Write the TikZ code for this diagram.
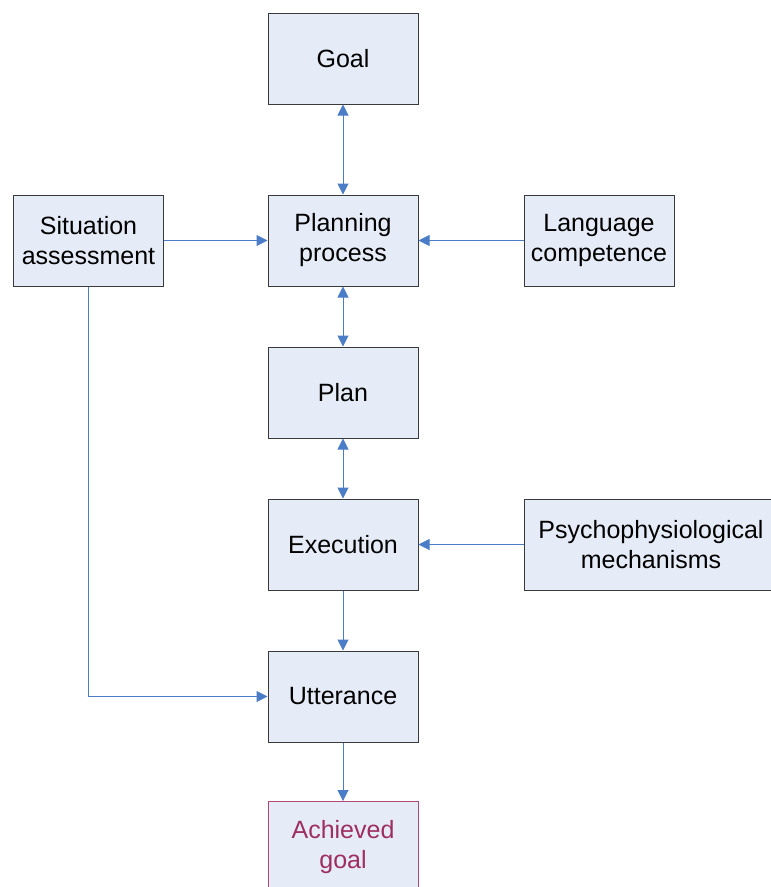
\documentclass[tikz,border=0pt]{standalone}
\usepackage{fontspec}
\setmainfont{Liberation Sans}
\usetikzlibrary{arrows.meta}
\definecolor{boxfill}{HTML}{E6ECF7}
\definecolor{boxline}{HTML}{3A3A3A}
\definecolor{linkblue}{HTML}{4A7CC8}
\definecolor{goalred}{HTML}{9E2E62}
\definecolor{goalline}{HTML}{B0487A}
\begin{document}
\begin{tikzpicture}[x=1pt,y=-1pt,
  box/.style={draw=boxline,line width=1pt,fill=boxfill,minimum width=150pt,minimum height=91pt,
    inner sep=0pt,align=center,font=\fontsize{25}{30}\selectfont,text=black},
  link/.style={draw=linkblue,line width=1pt,-{Triangle[length=11pt,width=11pt]}},
  dlink/.style={draw=linkblue,line width=1pt,{Triangle[length=11pt,width=11pt]}-{Triangle[length=11pt,width=11pt]}}]
\useasboundingbox (0,0) rectangle (771,887);
\begin{scope}
\clip (0,0) rectangle (771,887);
\node[box] (goal) at (343,58.5) {Goal};
\node[box] (planning) at (343,240.5) {Planning\\process};
\node[box] (situation) at (88.5,240.5) {Situation\\assessment};
\node[box] (language) at (599,240.5) {Language\\competence};
\node[box] (plan) at (343,392.5) {Plan};
\node[box] (execution) at (343,544.5) {Execution};
\node[box,minimum width=254pt] (psycho) at (651,544.5) {Psychophysiological\\mechanisms};
\node[box] (utterance) at (343,696.5) {Utterance};
\node[box,draw=goalline,text=goalred] (achieved) at (343,847) {Achieved\\goal};
\end{scope}
\draw[dlink] (goal) -- (planning);
\draw[dlink] (planning) -- (plan);
\draw[dlink] (plan) -- (execution);
\draw[link] (situation) -- (planning);
\draw[link] (language) -- (planning);
\draw[link] (psycho.west) -- (execution.east);
\draw[link] (execution) -- (utterance);
\draw[link] (utterance) -- (achieved);
\draw[link] (situation.south) |- (utterance.west);
\end{tikzpicture}
\end{document}
